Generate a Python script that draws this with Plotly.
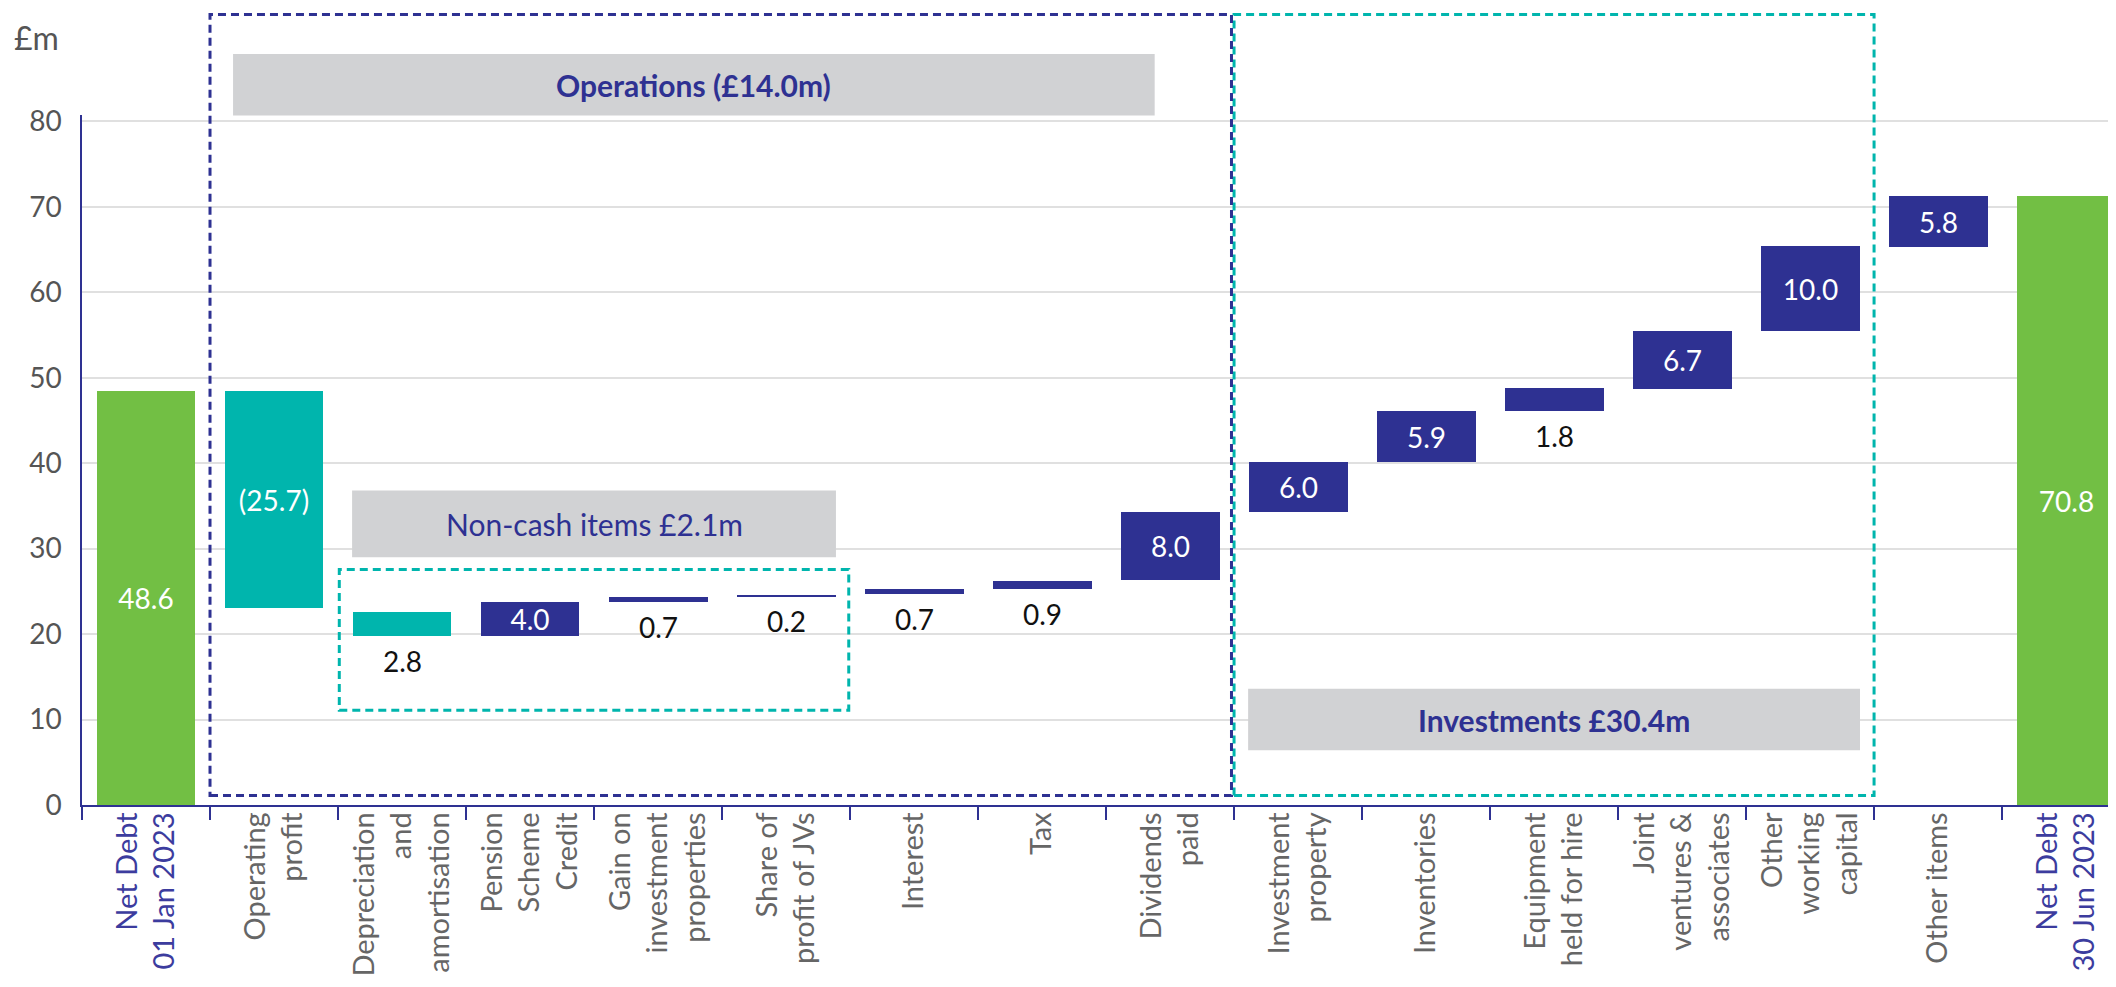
import plotly.graph_objects as go

# categories (x axis), in chart order
categories = [
    "Net Debt<br>01 Jan 2023", "Operating<br>profit", "Depreciation<br>and<br>amortisation",
    "Pension<br>Scheme<br>Credit", "Gain on<br>investment<br>properties", "Share of<br>profit of JVs",
    "Interest", "Tax", "Dividends<br>paid", "Investment<br>property", "Inventories",
    "Equipment<br>held for hire", "Joint<br>ventures &<br>associates", "Other<br>working<br>capital",
    "Other items", "Net Debt<br>30 Jun 2023",
]
# value labels as printed on the chart
value_labels = ["48.6", "(25.7)", "2.8", "4.0", "0.7", "0.2", "0.7", "0.9", "8.0",
                "6.0", "5.9", "1.8", "6.7", "10.0", "5.8", "70.8"]
# bar start / end levels (£m)
bar_start = [0, 48.4, 22.6, 19.75, 23.75, 24.45, 24.65, 25.3, 26.3,
             34.3, 40.15, 46.1, 48.7, 55.5, 65.3, 0]
bar_end = [48.5, 23.0, 19.8, 23.7, 24.4, 24.6, 25.3, 26.2, 34.25,
           40.2, 46.1, 48.75, 55.5, 65.4, 71.25, 71.25]
y_ticks = [0, 10, 20, 30, 40, 50, 60, 70, 80]

NAVY = "#2E3192"
TEAL = "#00B5AD"
GREEN = "#72BF44"
GREY_BOX = "#D1D2D4"
FONT = "Lato"
Y_MAX = 80.75

n = len(categories)
is_total = [i in (0, n - 1) for i in range(n)]
x_cats = [f"<span style='color:#3C3C9E'>{c}</span>" if t else c for c, t in zip(categories, is_total)]

colors, base, height = [], [], []
for s, e, t in zip(bar_start, bar_end, is_total):
    base.append(min(s, e))
    height.append(abs(e - s))
    colors.append(GREEN if t else (TEAL if e < s else NAVY))

inside = [h >= 3 for h in height]

fig = go.Figure()
fig.add_trace(go.Bar(
    x=x_cats, y=height, base=base, width=0.773, marker=dict(color=colors, line_width=0),
    text=[l if ok else "" for l, ok in zip(value_labels, inside)],
    textposition="inside", insidetextanchor="middle", constraintext="none",
    textfont=dict(color="white", size=28, family=FONT), hoverinfo="skip",
))


def py(v):
    return v / Y_MAX


def box(x0, x1, y0, y1, **kw):
    return dict(type="rect", xref="x", yref="paper", x0=x0, x1=x1, y0=py(y0), y1=py(y1), layer="above", **kw)


dash = dict(width=3, dash="8px,5px")
shapes = [
    box(0.68, 7.88, 80.7, 87.9, fillcolor=GREY_BOX, line_width=0),
    box(1.61, 5.39, 29.0, 36.8, fillcolor=GREY_BOX, line_width=0),
    box(8.61, 13.39, 6.4, 13.6, fillcolor=GREY_BOX, line_width=0),
    box(1.51, 5.49, 11.1, 27.55, line=dict(color=TEAL, **dash)),
    box(8.50, 13.50, 1.1, 92.5, line=dict(color=TEAL, **dash)),
    box(0.50, 8.48, 1.1, 92.5, line=dict(color=NAVY, **dash)),
]

annotations = [
    dict(text="<b>Operations (£14.0m)</b>", x=4.28, y=py(84.3)),
    dict(text="Non-cash items £2.1m", x=3.5, y=py(32.9)),
    dict(text="<b>Investments £30.4m</b>", x=11.0, y=py(10.0)),
]
for a in annotations:
    a.update(xref="x", yref="paper", showarrow=False, xanchor="center", yanchor="middle",
             font=dict(color=NAVY, size=30, family=FONT))
annotations.append(dict(text="£m", xref="paper", yref="paper", x=0, y=py(89.8), xshift=-21,
                        xanchor="right", yanchor="middle", showarrow=False,
                        font=dict(color="#555555", size=32, family=FONT)))
# labels of the thin bars sit just under the bar
for i in range(n):
    if not inside[i]:
        annotations.append(dict(text=value_labels[i], x=x_cats[i], y=base[i], xref="x", yref="y",
                                showarrow=False, xanchor="center", yanchor="top", yshift=-6,
                                font=dict(color="#111111", size=28, family=FONT)))

# the page body adds 8px around the figure, so the figure is 8px smaller
fig.update_layout(
    width=2108, height=979, margin=dict(l=74, r=0, t=107, b=182, autoexpand=False),
    paper_bgcolor="white", plot_bgcolor="white", showlegend=False, bargap=0,
    font=dict(family=FONT, size=25, color="#555555"),
    shapes=shapes, annotations=annotations,
    xaxis=dict(type="category", categoryorder="array", categoryarray=x_cats, range=[-0.5, 15.39],
               tickangle=-90, tickson="boundaries", ticks="outside", ticklen=13, tickcolor=NAVY,
               tickwidth=1.5, showline=True, linecolor=NAVY, linewidth=1.5, showgrid=False,
               tickfont=dict(size=29, color="#666666", family=FONT), automargin=False,
               ticklabelstandoff=-6),
    yaxis=dict(range=[0, Y_MAX], tickvals=y_ticks, showline=True, linecolor=NAVY, linewidth=1.5,
               showgrid=True, gridcolor="#E0E0E0", gridwidth=2, zeroline=False, ticks="",
               tickfont=dict(size=28, color="#555555", family=FONT), automargin=False,
               ticklabelstandoff=13),
)

fig.write_html("out.html")
